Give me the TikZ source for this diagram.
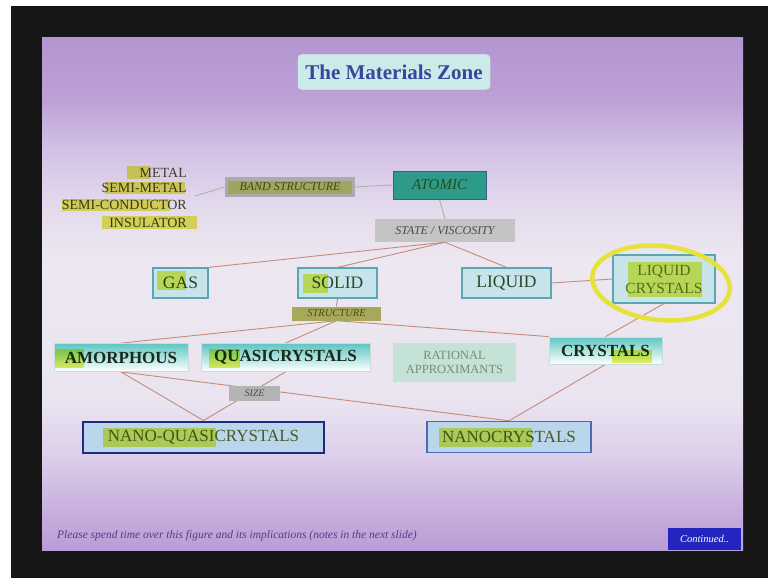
\documentclass[tikz,border=0pt]{standalone}
\usepackage{fontspec}
\setmainfont{Liberation Serif}
\usetikzlibrary{shapes.geometric}
\definecolor{framebk}{HTML}{161616}
\definecolor{s0}{HTML}{B99CD6}
\definecolor{s8}{HTML}{C8B0DE}
\definecolor{s18}{HTML}{DCCEEA}
\definecolor{s29}{HTML}{EAE4F0}
\definecolor{s57}{HTML}{EDE7F1}
\definecolor{s68}{HTML}{E2D8EC}
\definecolor{s78}{HTML}{D2C2E4}
\definecolor{s88}{HTML}{BCA0D6}
\definecolor{s100}{HTML}{B396D0}
\definecolor{titlefill}{HTML}{CCEAE8}
\definecolor{titletext}{HTML}{34489C}
\definecolor{listc}{HTML}{3E3E28}
\definecolor{bandfill}{HTML}{ABABAB}
\definecolor{bandtext}{HTML}{4A4A18}
\definecolor{atomfill}{HTML}{2E9A8A}
\definecolor{atomedge}{HTML}{3A5E86}
\definecolor{atomtext}{HTML}{234E16}
\definecolor{statefill}{HTML}{C4C4C4}
\definecolor{statetext}{HTML}{4A4A4A}
\definecolor{phasefill}{HTML}{C6E4EA}
\definecolor{phaseedge}{HTML}{5AA6B2}
\definecolor{phasetext}{HTML}{2E4628}
\definecolor{lctext}{HTML}{62722A}
\definecolor{structfill}{HTML}{A8A85A}
\definecolor{gradtop}{HTML}{5EC6C2}
\definecolor{gradedge}{HTML}{C8DEDE}
\definecolor{gradtext}{HTML}{1A2A1A}
\definecolor{ratfill}{HTML}{C4E2D6}
\definecolor{rattext}{HTML}{7A8A7C}
\definecolor{sizefill}{HTML}{B4B4B4}
\definecolor{nanofill}{HTML}{BAD6EA}
\definecolor{nanoqedge}{HTML}{1E2A80}
\definecolor{nanocedge}{HTML}{4C6CB2}
\definecolor{nanotext}{HTML}{4A5A26}
\definecolor{linkc}{HTML}{C48C78}
\definecolor{linkg}{HTML}{A8B6A4}
\definecolor{hlc}{HTML}{EAF060}
\definecolor{ringc}{HTML}{E6E23A}
\definecolor{foottext}{HTML}{563A8A}
\definecolor{contfill}{HTML}{2424BE}
\pgfdeclareverticalshading{slidebg}{100bp}{color(0bp)=(s0); color(25bp)=(s0); color(29bp)=(s8); color(34bp)=(s18); color(39.5bp)=(s29); color(53.5bp)=(s57); color(59bp)=(s68); color(64bp)=(s78); color(69bp)=(s88); color(75bp)=(s100); color(100bp)=(s100)}
\pgfdeclarelayer{back}
\pgfdeclarelayer{links}
\pgfsetlayers{back,links,main}
\tikzset{
  listtxt/.style={font=\fontsize{14}{15}\selectfont, text=listc, inner sep=0pt, anchor=east},
  tag/.style={font=\itshape\fontsize{12}{13}\selectfont, inner sep=0pt},
  phase/.style={draw=phaseedge, fill=phasefill, line width=1.2pt, font=\fontsize{17.5}{18}\selectfont, text=phasetext, inner sep=0pt, minimum height=30},
  gradbox/.style={top color=gradtop, bottom color=white, draw=gradedge, line width=0.8pt, font=\bfseries\fontsize{17}{18}\selectfont, text=gradtext, inner sep=0pt, minimum height=28},
  nanobox/.style={fill=nanofill, font=\fontsize{17}{18}\selectfont, text=nanotext, inner sep=0pt, minimum height=31},
  link/.style={draw=linkc, line width=0.9pt},
  glink/.style={draw=linkg, line width=0.9pt},
}
\begin{document}
\begin{tikzpicture}[x=1pt,y=-1pt]
\useasboundingbox (0,0) rectangle (768,578);
\begin{pgfonlayer}{back}
\fill[white] (0,0) rectangle (768,578);
\fill[framebk] (11,6) rectangle (768,578);
\shade[shading=slidebg] (42,38) rectangle (743,550);
\end{pgfonlayer}

% title
\node[draw=titlefill!70!white, fill=titlefill, rounded corners=4pt, minimum width=192, minimum height=35, inner sep=0pt,
      font=\bfseries\fontsize{21}{23}\selectfont, text=titletext] (title) at (394,72) {The Materials Zone};

% band structure list
\node[listtxt] (metal) at (187,173) {METAL};
\node[listtxt] (semimetal) at (187,188) {SEMI-METAL};
\node[listtxt] (semicond) at (187,205) {SEMI-CONDUCTOR};
\node[listtxt] (insul) at (187,223) {INSULATOR};
\coordinate (listend) at (195,196);

\node[tag, fill=bandfill, text=bandtext, minimum width=130, minimum height=20] (band) at (290,187) {BAND STRUCTURE};
\node[draw=atomedge, fill=atomfill, line width=1pt, minimum width=93, minimum height=28, inner sep=0pt,
      font=\itshape\fontsize{15}{16}\selectfont, text=atomtext] (atomic) at (439.5,185) {ATOMIC};
\node[tag, fill=statefill, text=statetext, minimum width=140, minimum height=23] (state) at (445,230.5) {STATE / VISCOSITY};

% phases
\node[phase, minimum width=55] (gas) at (180.5,283) {GAS};
\node[phase, minimum width=79] (solid) at (337.5,283) {SOLID};
\node[phase, minimum width=89] (liquid) at (506.5,283) {LIQUID};
\node[phase, minimum width=102, minimum height=48, text=lctext, align=center,
      font=\fontsize{15.5}{18}\selectfont] (lc) at (664,279) {LIQUID\\CRYSTALS};
\node[tag, fill=structfill, text=bandtext, minimum width=89, minimum height=14,
      font=\itshape\fontsize{10.5}{11}\selectfont] (structure) at (336.5,313.5) {STRUCTURE};

% structures
\node[gradbox, minimum width=134] (amorph) at (121,357.5) {AMORPHOUS};
\node[gradbox, minimum width=169] (quasi) at (285.5,357.5) {QUASICRYSTALS};
\node[fill=ratfill, minimum width=123, minimum height=39, inner sep=0pt, align=center,
      font=\fontsize{12.5}{14.5}\selectfont, text=rattext] (rational) at (454.5,362.5) {RATIONAL\\APPROXIMANTS};
\node[gradbox, minimum width=113, minimum height=27] (crystals) at (605.5,350.5) {CRYSTALS};
\node[tag, fill=sizefill, text=statetext, minimum width=51, minimum height=15,
      font=\itshape\fontsize{10}{11}\selectfont] (size) at (254.5,393.5) {SIZE};

% nano
\node[nanobox, draw=nanoqedge, line width=2pt, minimum width=241] (nanoq) at (203.5,437) {NANO-QUASICRYSTALS};
\node[nanobox, draw=nanocedge, line width=1.4pt, minimum width=164] (nanoc) at (509,437) {NANOCRYSTALS};

% footer
\node[anchor=west, inner sep=0pt, font=\itshape\fontsize{11.5}{12}\selectfont, text=foottext] (foot) at (57,536)
  {Please spend time over this figure and its implications (notes in the next slide)};
\node[fill=contfill, minimum width=73, minimum height=22, inner sep=0pt, text=white,
      font=\itshape\fontsize{10.5}{11}\selectfont] (cont) at (704.5,539) {Continued..};

% connectors
\begin{pgfonlayer}{links}
\draw[glink] (listend) -- (band.west);
\draw[glink] (band.east) -- (atomic.west);
\draw[glink] (atomic.south) -- (state.north);
\draw[link] (state.south) -- (gas.north east);
\draw[link] (state.south) -- (solid.north);
\draw[link] (state.south) -- (liquid.north);
\draw[link] (liquid.east) -- (lc.west);
\draw[link] (solid.south) -- (structure.north);
\draw[link] (structure.south) -- (amorph.north);
\draw[link] (structure.south) -- (quasi.north);
\draw[link] (structure.south) -- (crystals.north west);
\draw[link] (lc.south) -- (crystals.north);
\draw[link] (amorph.south) -- (nanoq.north);
\draw[link] (amorph.south) -- (nanoc.north);
\draw[link] (quasi.south) -- (nanoq.north);
\draw[link] (crystals.south) -- (nanoc.north);
\end{pgfonlayer}

% yellow highlighter marks
\begin{scope}[blend mode=multiply]
\fill[hlc] (127,166) rectangle (150,179);
\fill[hlc] (105,182) rectangle (185,194);
\fill[hlc] (62,199) rectangle (170,211);
\fill[hlc] (102,216) rectangle (197,229);
\fill[hlc!70!white] (228,181) rectangle (352,194);
\fill[hlc] (157,271) rectangle (186,290);
\fill[hlc] (303,274) rectangle (328,293);
\fill[hlc] (628,262) rectangle (702,297);
\fill[hlc] (55,349) rectangle (84,368);
\fill[hlc] (209,349) rectangle (240,368);
\fill[hlc] (612,350) rectangle (652,363);
\fill[hlc] (103,428) rectangle (216,447);
\fill[hlc] (439,428) rectangle (532,447);
\end{scope}

% hand-drawn ring
\draw[ringc, line width=4.5pt, rotate around={-6:(661,283)}] (661,283) ellipse [x radius=69, y radius=37];
\end{tikzpicture}
\end{document}
